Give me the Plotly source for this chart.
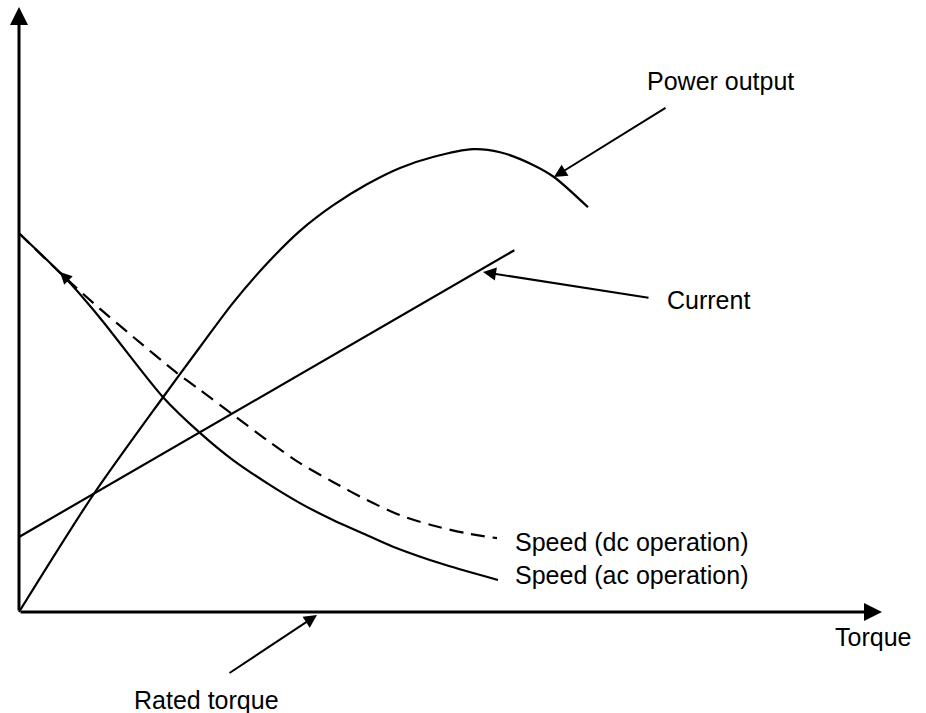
import plotly.graph_objects as go

# Characteristic curves of a universal motor versus torque (arbitrary units)
power_torque = [0.0, 0.857, 1.669, 2.097, 2.480, 2.874, 3.256, 3.638, 4.032,
                4.415, 4.797, 5.261, 5.574, 5.956, 6.199, 6.593]
power_output = [0.0, 1.93, 3.55, 4.38, 5.11, 5.76, 6.30, 6.72, 7.07,
                7.34, 7.52, 7.65, 7.60, 7.39, 7.19, 6.69]

current_torque = [0.0, 5.74]
current = [1.24, 5.98]

speed_ac_torque = [0.0, 0.556, 0.939, 1.669, 2.097, 2.480, 2.874, 3.256, 3.638,
                   4.032, 4.334, 4.936, 5.550]
speed_ac = [6.26, 5.49, 4.86, 3.55, 2.96, 2.51, 2.13, 1.80, 1.52,
            1.27, 1.08, 0.78, 0.53]

speed_dc_torque = [0.0, 0.556, 0.939, 1.321, 1.831, 2.097, 2.480, 2.874, 3.256,
                   3.638, 4.032, 4.415, 4.797, 5.191, 5.539]
speed_dc = [6.26, 5.50, 5.01, 4.55, 3.95, 3.67, 3.26, 2.84, 2.46,
            2.15, 1.85, 1.60, 1.43, 1.30, 1.22]

FONT = "Liberation Sans, Arial, sans-serif"
INK = "black"

fig = go.Figure()

fig.add_trace(go.Scatter(x=power_torque, y=power_output, mode="lines",
                         line=dict(color=INK, width=2.2, shape="spline", smoothing=0.8),
                         name="Power output"))
fig.add_trace(go.Scatter(x=current_torque, y=current, mode="lines",
                         line=dict(color=INK, width=2.2), name="Current"))
fig.add_trace(go.Scatter(x=speed_ac_torque, y=speed_ac, mode="lines",
                         line=dict(color=INK, width=2.2, shape="spline", smoothing=0.8),
                         name="Speed (ac operation)"))
fig.add_trace(go.Scatter(x=speed_dc_torque, y=speed_dc, mode="lines",
                         line=dict(color=INK, width=2.2, shape="spline", smoothing=0.8,
                                   dash="14px,8px"),
                         name="Speed (dc operation)"))


def arrow(x_head, y_head, x_tail, y_tail, width=2, head=2, size=1.3):
    fig.add_annotation(x=x_head, y=y_head, ax=x_tail, ay=y_tail,
                       xref="x", yref="y", axref="x", ayref="y",
                       text="", showarrow=True, arrowhead=head,
                       arrowsize=size, arrowwidth=width, arrowcolor=INK)


def label(x, y, text, xanchor="center"):
    fig.add_annotation(x=x, y=y, xref="x", yref="y", text=text, showarrow=False,
                       xanchor=xanchor, yanchor="middle",
                       font=dict(family=FONT, size=25, color=INK))


# Axes drawn as arrows from the origin
arrow(0.0, 10.0, 0.0, 0.0, width=3, size=1.2)
arrow(10.0, 0.0, 0.0, 0.0, width=3, size=1.2)

# Pointer arrows to the curves
arrow(6.199, 7.19, 7.509, 8.347)
arrow(5.377, 5.62, 7.312, 5.19)
arrow(3.453, -0.05, 2.422, -1.025)
arrow(0.475, 5.62, 0.649, 5.37, width=2, size=1.2)

label(8.123, 8.78, "Power output")
label(7.99, 5.157, "Current")
label(5.724, 1.157, "Speed (dc operation)", xanchor="left")
label(5.724, 0.612, "Speed (ac operation)", xanchor="left")
label(9.896, -0.41, "Torque")
label(2.178, -1.455, "Rated torque")

fig.update_layout(
    width=926, height=713,
    margin=dict(l=0, r=0, t=0, b=0),
    paper_bgcolor="white", plot_bgcolor="white",
    showlegend=False,
    xaxis=dict(range=[-0.2202, 10.510], visible=False, fixedrange=True),
    yaxis=dict(range=[-1.6694, 10.1157], visible=False, fixedrange=True),
)

fig.write_html("out.html", config={"displayModeBar": False})
